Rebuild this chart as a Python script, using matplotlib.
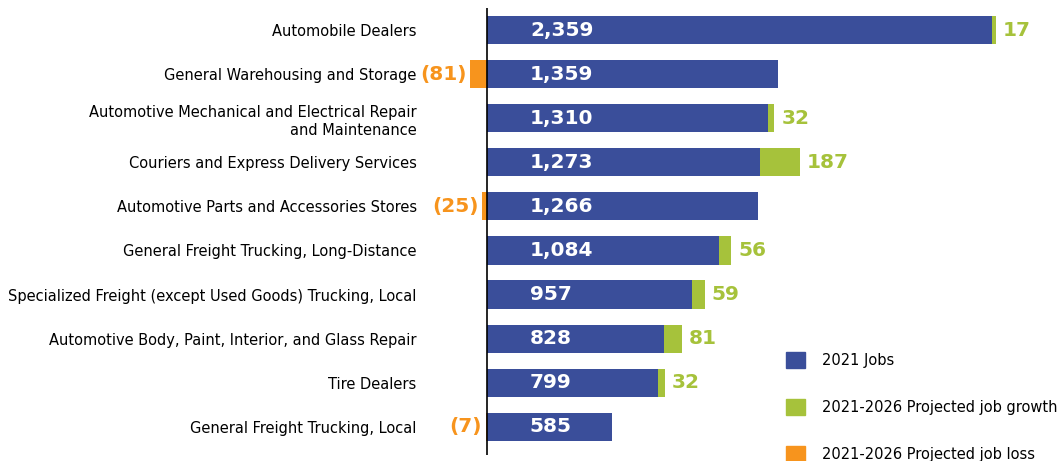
import matplotlib.pyplot as plt
from matplotlib.patches import Patch

plt.rcParams['font.family'] = ['DejaVu Sans']

categories = [
    'Automobile Dealers',
    'General Warehousing and Storage',
    'Automotive Mechanical and Electrical Repair\nand Maintenance',
    'Couriers and Express Delivery Services',
    'Automotive Parts and Accessories Stores',
    'General Freight Trucking, Long-Distance',
    'Specialized Freight (except Used Goods) Trucking, Local',
    'Automotive Body, Paint, Interior, and Glass Repair',
    'Tire Dealers',
    'General Freight Trucking, Local',
]
jobs_2021 = [2359, 1359, 1310, 1273, 1266, 1084, 957, 828, 799, 585]
change = [17, -81, 32, 187, -25, 56, 59, 81, 32, -7]

BLUE = '#3A4E9A'
GREEN = '#A6C23B'
ORANGE = '#F7941D'

fig = plt.figure(figsize=(10.6, 4.61), dpi=100)
# axes starts at 425 px, zero line at 487 px
ax = fig.add_axes([425 / 1060, 1 - 455 / 461, 635 / 1060, 447 / 461])

y = list(range(len(categories)))
h = 0.64

ax.barh(y, jobs_2021, height=h, color=BLUE)
for i, (j, c) in enumerate(zip(jobs_2021, change)):
    ax.text(200, i, f'{j:,}', color='white', fontsize=14.5, fontweight='bold',
            va='center', ha='left')
    if c > 0:
        ax.barh(i, c, left=j, height=h, color=GREEN)
        ax.text(j + c + 32, i, f'{c}', color=GREEN, fontsize=14.5,
                fontweight='bold', va='center', ha='left')
    else:
        ax.barh(i, c, height=h, color=ORANGE)
        ax.text(c - 16, i, f'({-c})', color=ORANGE, fontsize=14.5,
                fontweight='bold', va='center', ha='right')

ax.axvline(0, color='black', linewidth=1.2)

ax.set_xlim(-290, 2676)
ax.set_ylim(9.64, -0.5)
ax.set_yticks(y)
ax.set_yticklabels(categories, fontsize=10.5, ha='right', linespacing=1.25)
ax.tick_params(axis='y', length=0, pad=6)
ax.set_xticks([])
for s in ax.spines.values():
    s.set_visible(False)

handles = [Patch(color=BLUE, label='2021 Jobs'),
           Patch(color=GREEN, label='2021-2026 Projected job growth'),
           Patch(color=ORANGE, label='2021-2026 Projected job loss')]
fig.legend(handles=handles, loc='upper left',
           bbox_to_anchor=(780 / 1060, 1 - 346 / 461),
           frameon=False, fontsize=10.5, handlelength=1.3, handleheight=1.3,
           labelspacing=2.15, handletextpad=1.2, borderaxespad=0)

plt.savefig('out.png', dpi=100)
